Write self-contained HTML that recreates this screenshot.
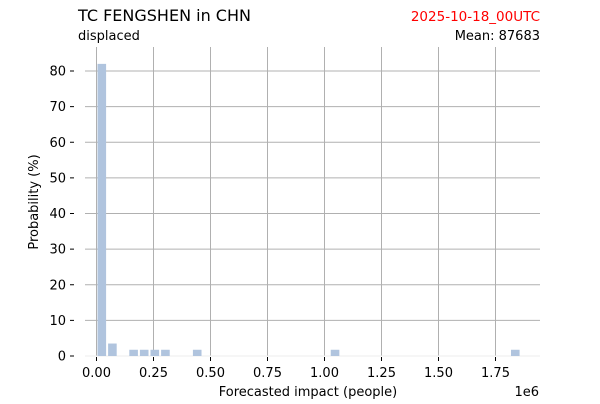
<!DOCTYPE html>
<html><head><meta charset="utf-8"><style>
body{margin:0;background:#fff;font-family:"DejaVu Sans","Liberation Sans",sans-serif;}
svg text{font-family:"DejaVu Sans","Liberation Sans",sans-serif;}
</style></head><body>
<svg id="chart" width="600" height="400" viewBox="0 0 600 400">
<text x="78" y="21" font-size="16" fill="#000">TC FENGSHEN in CHN</text>
<text x="540" y="21" font-size="13.5" fill="#ff0000" text-anchor="end">2025-10-18_00UTC</text>
<text x="78" y="40" font-size="13" fill="#000">displaced</text>
<text x="540" y="40" font-size="13" fill="#000" text-anchor="end">Mean: 87683</text>
<g id="grid"></g>
<g id="bars"></g>
<g id="axes"></g>
<text x="308" y="396" font-size="13" text-anchor="middle">Forecasted impact (people)</text>
<text x="539" y="396" font-size="13" text-anchor="end">1e6</text>
<text transform="translate(38,202) rotate(-90)" font-size="13" text-anchor="middle">Probability (%)</text>
</svg>
<script>
const binStarts = [0, 0.0465, 0.1395, 0.186, 0.2325, 0.279, 0.4185, 1.023, 1.8135];
const binWidth = 0.0465;
const probabilities = [82, 3.5, 1.75, 1.75, 1.75, 1.75, 1.75, 1.75, 1.75];
const xTicks = [0, 0.25, 0.5, 0.75, 1.0, 1.25, 1.5, 1.75];
const xTickLabels = ["0.00","0.25","0.50","0.75","1.00","1.25","1.50","1.75"];
const yTicks = [0,10,20,30,40,50,60,70,80];
const NS="http://www.w3.org/2000/svg";
const X = v => 96.5 + v*228;
const Y = v => 356 - v*3.5625;
const grid=document.getElementById('grid'), bars=document.getElementById('bars'), axes=document.getElementById('axes');
function mk(tag, attrs, parent){const e=document.createElementNS(NS,tag);for(const k in attrs)e.setAttribute(k,attrs[k]);parent.appendChild(e);return e;}
yTicks.forEach(t=>{
  const l=mk('line',{x1:85,x2:540,y1:Y(t),y2:Y(t),stroke:'#b0b0b0','stroke-width':1},grid);
  
  
  const tx=mk('text',{x:66,y:Y(t)+4.5,'font-size':13,'text-anchor':'end'},axes);
  tx.textContent=t;
  
  
  const tk=mk('line',{x1:70,x2:74,y1:Y(t),y2:Y(t),stroke:'#000'},axes);
  
  
});
xTicks.forEach((t,i)=>{
  const l=mk('line',{x1:X(t),x2:X(t),y1:47,y2:356,stroke:'#b0b0b0','stroke-width':1},grid);
  
  
  const tk=mk('line',{x1:X(t),x2:X(t),y1:357,y2:361,stroke:'#000'},axes);
  
  
  const tx=mk('text',{x:X(t),y:377,'font-size':13,'text-anchor':'middle'},axes);
  tx.textContent=xTickLabels[i];
  
  
});
const base=mk('line',{x1:85,x2:540,y1:356,y2:356,stroke:'#eeeeee'},grid);


binStarts.forEach((s,i)=>{
  const x0=X(s)+1, x1=X(s+binWidth)-1;
  const r=mk('rect',{x:x0,y:Y(probabilities[i]),width:x1-x0,height:356-Y(probabilities[i]),fill:'#b0c4de'},bars);
  
  
});
</script>
</body></html>
